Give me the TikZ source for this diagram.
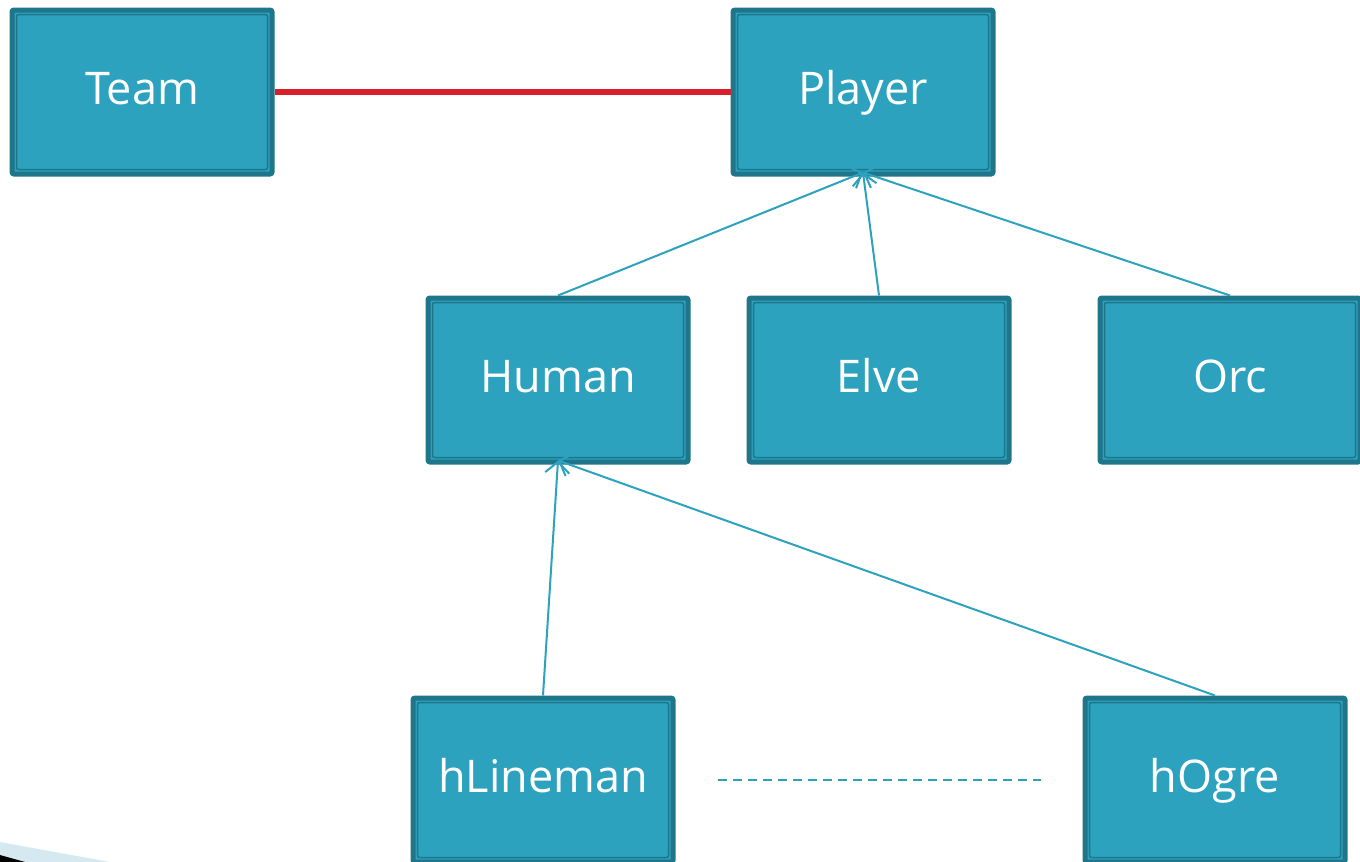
\documentclass[tikz,border=0pt]{standalone}
\usepackage{fontspec}
\setmainfont{Open Sans}
\usepackage{xcolor}
\usetikzlibrary{arrows.meta,positioning}

\definecolor{boxfill}{HTML}{2CA2BF}
\definecolor{boxedge}{HTML}{1F768A}
\definecolor{linkred}{HTML}{D9202A}
\definecolor{wisp}{HTML}{D6E9F1}

\begin{document}
\begin{tikzpicture}[x=1pt, y=-1pt]
        \tikzset{classbox/.style={rectangle, draw=boxedge, fill=boxfill, line width=5pt,
            rounded corners=2pt, minimum width=260pt, minimum height=164pt,
            text=white, font=\fontsize{45}{52}\selectfont, text height=32pt, text depth=8pt,
            path picture={\draw[boxedge, line width=1.5pt]
                ([shift={(4.5pt,4.5pt)}]path picture bounding box.south west) rectangle
                ([shift={(-4.5pt,-4.5pt)}]path picture bounding box.north east);}}}
        \tikzset{inherit/.style={draw=boxfill, line width=2pt, -{Straight Barb[length=11pt,width=24pt]}}}

        \useasboundingbox (0,0) rectangle (1360,862);

        % theme corner
        \fill[wisp] (0,842) -- (110,862) -- (0,862) -- cycle;
        \fill[black] (0,855) -- (25,862) -- (0,862) -- cycle;

        \node [classbox] (team) at (142,92) {Team};
        \node [classbox] (player) at (863,92) {Player};
        \node [classbox] (human) at (558,380) {Human};
        \node [classbox] (elve) at (879,380) {Elve};
        \node [classbox] (orc) at (1230,380) {Orc};
        \node [classbox] (lineman) at (543,780) {hLineman};
        \node [classbox] (ogre) at (1215,780) {hOgre};

        \draw [linkred, line width=6pt] (team) -- (player);

        \draw [inherit] (human.north) -- ([yshift=4pt]player.south);
        \draw [inherit] (elve.north) -- ([yshift=4pt]player.south);
        \draw [inherit] (orc.north) -- ([yshift=4pt]player.south);
        \draw [inherit] (lineman.north) -- ([yshift=4pt]human.south);
        \draw [inherit] (ogre.north) -- ([yshift=4pt]human.south);

        \draw [boxfill, line width=2pt, dash pattern=on 9pt off 6pt, shorten <=42pt, shorten >=42pt] (lineman) -- (ogre);
    \end{tikzpicture}
\end{document}
